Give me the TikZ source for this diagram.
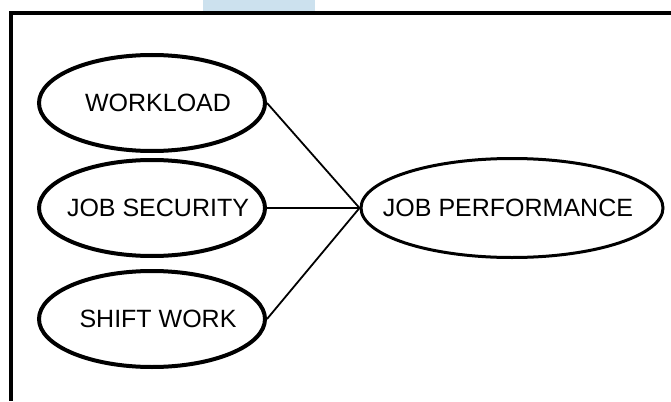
\documentclass[tikz,border=0pt]{standalone}
\usepackage{fontspec}
\setmainfont{Liberation Sans}
\usetikzlibrary{shapes.geometric}
\definecolor{tabblue}{HTML}{CCE1EE}
\newcommand{\ctext}[1]{\makebox[0pt][c]{#1}}
\tikzset{
  factor/.style={ellipse, draw=black, line width=4pt, minimum width=226pt, minimum height=96pt, inner sep=0pt, font=\fontsize{25}{30}\selectfont},
  outcome/.style={ellipse, draw=black, line width=3pt, minimum width=302pt, minimum height=99pt, inner sep=0pt, font=\fontsize{25}{30}\selectfont},
  link/.style={draw=black, line width=1.8pt},
  frameline/.style={draw=black, line width=4pt}
}
\begin{document}
\begin{tikzpicture}[x=1pt,y=-1pt]
\useasboundingbox (0,0) rectangle (671,401);
\fill[white] (0,0) rectangle (671,401);
\fill[tabblue] (203,0) rectangle (315,11);
\coordinate (ftr) at (671,13);
\coordinate (ftl) at (11,13);
\coordinate (fbl) at (11,401);
\draw[frameline] (ftr) -- (ftl) -- (fbl);
\node[factor] (w) at (152,103) {\ctext{\hspace*{12pt}WORKLOAD}};
\node[factor] (js) at (152,208) {\ctext{\hspace*{12pt}JOB SECURITY}};
\node[factor] (sw) at (152,319) {\ctext{\hspace*{12pt}SHIFT WORK}};
\node[outcome] (jp) at (512,208) {\ctext{JOB PERFORMANCE\hspace*{8pt}}};
\draw[link] (w.east) -- (jp.west);
\draw[link] (js.east) -- (jp.west);
\draw[link] (sw.east) -- (jp.west);
\end{tikzpicture}
\end{document}
